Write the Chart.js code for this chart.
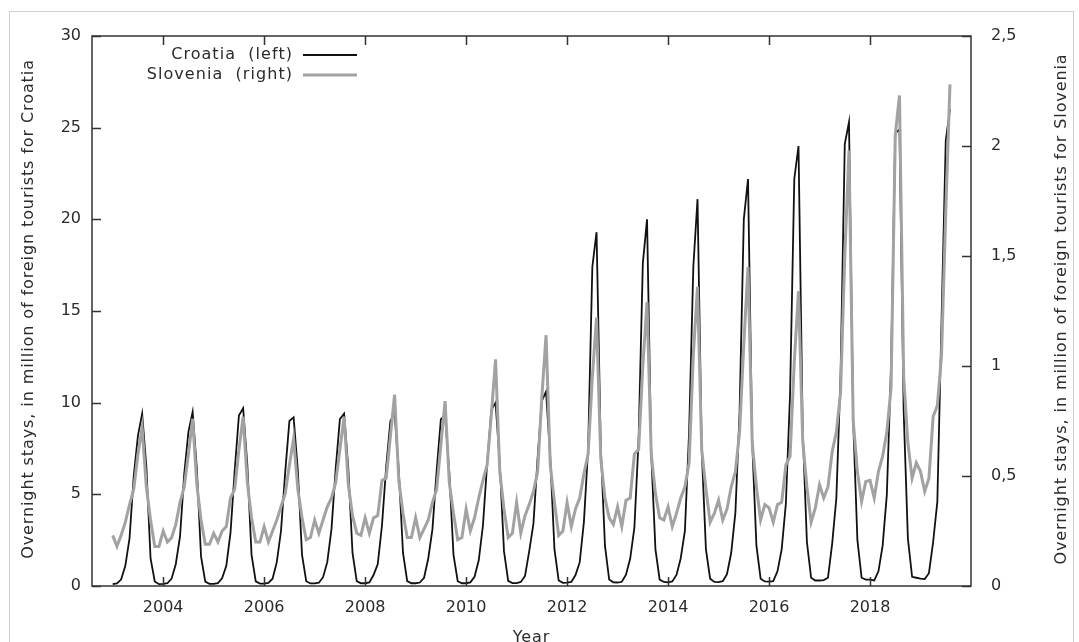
<!DOCTYPE html>
<html>
<head>
<meta charset="utf-8">
<script src="https://cdn.jsdelivr.net/npm/chart.js@4.4.0/dist/chart.umd.min.js"></script>
<style>
html,body{margin:0;padding:0;background:#fff;}
#wrap{position:relative;width:1079px;height:642px;}
</style>
</head>
<body>
<div id="wrap"><canvas id="c" width="1079" height="642"></canvas></div>
<script>
// ---- data (monthly, Jan 2003 .. Aug 2019) ----
const startYear = 2003;
const croatia = [
  0.10,0.14,0.35,1.1,2.6,6.0,8.2,9.4,6.5,1.5,0.25,0.10,
  0.12,0.15,0.40,1.2,2.7,6.1,8.4,9.5,6.4,1.6,0.24,0.12,
  0.12,0.16,0.42,1.1,2.9,6.3,9.3,9.7,6.6,1.7,0.25,0.13,
  0.13,0.17,0.40,1.3,3.0,6.2,9.0,9.2,6.3,1.7,0.26,0.14,
  0.14,0.18,0.48,1.3,3.1,6.4,9.1,9.4,6.4,1.8,0.27,0.15,
  0.15,0.20,0.60,1.2,3.3,6.5,9.0,9.4,6.3,1.8,0.27,0.15,
  0.15,0.19,0.45,1.5,3.1,6.3,9.1,9.3,6.2,1.7,0.26,0.15,
  0.15,0.20,0.50,1.4,3.3,6.7,9.6,10.0,6.7,1.9,0.28,0.16,
  0.16,0.22,0.55,1.9,3.4,7.0,10.1,10.6,7.0,2.0,0.30,0.17,
  0.18,0.22,0.60,1.3,3.5,7.5,17.4,19.3,7.6,2.2,0.35,0.20,
  0.19,0.23,0.62,1.5,3.2,8.0,17.6,20.0,7.2,2.0,0.35,0.22,
  0.20,0.25,0.60,1.5,3.0,8.4,17.4,21.1,7.4,2.0,0.40,0.22,
  0.21,0.26,0.65,1.8,4.0,9.5,20.0,22.2,7.8,2.2,0.40,0.25,
  0.24,0.27,0.80,2.0,4.5,10.5,22.2,24.0,8.5,2.4,0.45,0.30,
  0.30,0.32,0.45,2.3,4.8,11.5,24.1,25.3,9.0,2.5,0.45,0.35,
  0.35,0.30,0.80,2.2,5.0,12.0,24.7,24.9,9.5,2.6,0.50,0.45,
  0.40,0.38,0.70,2.4,4.6,14.5,24.3,26.0
];
const slovenia = [
  0.23,0.18,0.23,0.29,0.37,0.44,0.60,0.72,0.45,0.30,0.18,0.18,
  0.25,0.20,0.22,0.28,0.38,0.45,0.60,0.76,0.46,0.30,0.19,0.19,
  0.24,0.20,0.25,0.27,0.40,0.44,0.62,0.77,0.47,0.31,0.20,0.20,
  0.27,0.20,0.25,0.30,0.36,0.42,0.55,0.67,0.44,0.31,0.21,0.22,
  0.30,0.24,0.30,0.36,0.40,0.47,0.62,0.77,0.46,0.32,0.24,0.23,
  0.31,0.24,0.31,0.32,0.48,0.49,0.68,0.87,0.48,0.33,0.22,0.22,
  0.31,0.22,0.26,0.30,0.38,0.44,0.64,0.84,0.47,0.33,0.21,0.22,
  0.35,0.25,0.31,0.40,0.48,0.55,0.78,1.03,0.52,0.35,0.22,0.24,
  0.38,0.24,0.32,0.37,0.43,0.52,0.86,1.14,0.55,0.38,0.23,0.25,
  0.38,0.27,0.35,0.40,0.51,0.60,0.95,1.22,0.58,0.40,0.31,0.28,
  0.36,0.27,0.39,0.40,0.60,0.62,1.00,1.29,0.60,0.42,0.31,0.30,
  0.36,0.27,0.33,0.40,0.45,0.56,1.05,1.36,0.62,0.44,0.29,0.33,
  0.39,0.30,0.35,0.45,0.52,0.70,1.10,1.45,0.65,0.45,0.30,0.37,
  0.355,0.29,0.37,0.38,0.55,0.59,1.02,1.34,0.66,0.45,0.29,0.355,
  0.46,0.40,0.45,0.61,0.70,0.88,1.50,1.98,0.75,0.52,0.385,0.475,
  0.48,0.40,0.52,0.59,0.70,0.90,2.05,2.23,0.95,0.65,0.49,0.56,
  0.52,0.43,0.49,0.77,0.82,1.05,1.70,2.28
];
const xTicks = [2004, 2006, 2008, 2010, 2012, 2014, 2016, 2018];
const leftTicks = [0, 5, 10, 15, 20, 25, 30];
const rightTicks = [0, 0.5, 1, 1.5, 2, 2.5];
const rightTickLabels = ["0", "0,5", "1", "1,5", "2", "2,5"];
const seriesLabels = ["Croatia  (left)", "Slovenia  (right)"];
const leftTitle = "Overnight stays, in million of foreign tourists for Croatia";
const rightTitle = "Overnight stays, in million of foreign tourists for Slovenia";
const xTitle = "Year";

// ---- styling ----
const FONT = "'DejaVu Sans', Verdana, sans-serif";
const TXT = '#2b2b2b';
const C_CRO = '#111111';
const C_SLO = '#a2a2a2';

const toPoints = arr => arr.map((v, i) => ({x: startYear + i / 12, y: v}));

const decor = {
  id: 'decor',
  beforeDraw(chart) {
    const ctx = chart.ctx;
    ctx.save();
    ctx.fillStyle = '#fff';
    ctx.fillRect(0, 0, chart.width, chart.height);
    ctx.strokeStyle = '#cfcfcf';
    ctx.lineWidth = 1;
    ctx.strokeRect(9.5, 11.5, 1064, 640);
    ctx.restore();
  },
  afterDraw(chart) {
    const ctx = chart.ctx;
    const a = chart.chartArea;
    const sx = chart.scales.x, sy = chart.scales.y, sy2 = chart.scales.y2;
    const TL = 9;
    ctx.save();
    ctx.strokeStyle = '#333';
    ctx.lineWidth = 1.5;
    ctx.beginPath();
    sx.ticks.forEach(t => {
      const p = Math.round(sx.getPixelForValue(t.value)) + 0.5;
      ctx.moveTo(p, a.bottom); ctx.lineTo(p, a.bottom - TL);
      ctx.moveTo(p, a.top); ctx.lineTo(p, a.top + TL);
    });
    sy.ticks.forEach(t => {
      const p = Math.round(sy.getPixelForValue(t.value)) + 0.5;
      ctx.moveTo(a.left, p); ctx.lineTo(a.left + TL, p);
    });
    sy2.ticks.forEach(t => {
      const p = Math.round(sy2.getPixelForValue(t.value)) + 0.5;
      ctx.moveTo(a.right, p); ctx.lineTo(a.right - TL, p);
    });
    ctx.stroke();
    ctx.strokeRect(a.left, a.top, a.right - a.left, a.bottom - a.top);

    // legend
    ctx.font = '16px ' + FONT;
    ctx.letterSpacing = '1.05px';
    ctx.fillStyle = TXT;
    ctx.textAlign = 'left';
    ctx.textBaseline = 'middle';
    const ds = chart.data.datasets;
    const rows = [55, 75];
    [0, 1].forEach(i => {
      const w = ctx.measureText(ds[i].label).width;
      ctx.fillText(ds[i].label, 293 - w, rows[i]);
      ctx.strokeStyle = ds[i].borderColor;
      ctx.lineWidth = ds[i].borderWidth;
      ctx.beginPath();
      ctx.moveTo(303, rows[i]); ctx.lineTo(357, rows[i]);
      ctx.stroke();
    });

    // axis titles
    ctx.letterSpacing = '0.9px';
    const midY = (a.top + a.bottom) / 2 - 2;
    ctx.textAlign = 'left';
    ctx.textBaseline = 'middle';
    ctx.fillStyle = TXT;
    ctx.save();
    ctx.translate(29, midY);
    ctx.rotate(-Math.PI / 2);
    ctx.fillText(leftTitle, -ctx.measureText(leftTitle).width / 2, 0);
    ctx.restore();
    ctx.save();
    ctx.translate(1062, midY);
    ctx.rotate(-Math.PI / 2);
    ctx.fillText(rightTitle, -ctx.measureText(rightTitle).width / 2, 0);
    ctx.restore();
    ctx.textBaseline = 'alphabetic';
    ctx.fillText(xTitle, (a.left + a.right) / 2 - ctx.measureText(xTitle).width / 2, 642);
    ctx.restore();
  }
};

new Chart(document.getElementById('c'), {
  type: 'line',
  data: {
    datasets: [
      {label: seriesLabels[0], data: toPoints(croatia), yAxisID: 'y', borderColor: C_CRO, borderWidth: 1.8, pointRadius: 0, tension: 0, order: 2},
      {label: seriesLabels[1], data: toPoints(slovenia), yAxisID: 'y2', borderColor: C_SLO, borderWidth: 3, pointRadius: 0, tension: 0, order: 1}
    ]
  },
  options: {
    responsive: false,
    animation: false,
    layout: {padding: {top: 36, left: 0, right: 0, bottom: 0}},
    plugins: {legend: {display: false}, tooltip: {enabled: false}},
    scales: {
      x: {
        type: 'linear', min: 2002.59, max: 2020,
        afterBuildTicks: s => { s.ticks = xTicks.map(v => ({value: v})); },
        afterFit: s => { s.height = 56; },
        grid: {display: false, drawTicks: false},
        border: {display: false},
        ticks: {color: TXT, font: {family: FONT, size: 16}, padding: 12, maxRotation: 0, autoSkip: false, callback: v => String(v)}
      },
      y: {
        position: 'left', min: 0, max: 30,
        afterBuildTicks: s => { s.ticks = leftTicks.map(v => ({value: v})); },
        afterFit: s => { s.width = 92; },
        grid: {display: false, drawTicks: false},
        border: {display: false},
        ticks: {color: TXT, font: {family: FONT, size: 16}, padding: 11, callback: v => String(v)}
      },
      y2: {
        position: 'right', min: 0, max: 2.5,
        afterBuildTicks: s => { s.ticks = rightTicks.map(v => ({value: v})); },
        afterFit: s => { s.width = 108; },
        grid: {display: false, drawTicks: false},
        border: {display: false},
        ticks: {color: TXT, font: {family: FONT, size: 16}, padding: 20, callback: v => rightTickLabels[rightTicks.indexOf(v)]}
      }
    }
  },
  plugins: [decor]
});
</script>
</body>
</html>
